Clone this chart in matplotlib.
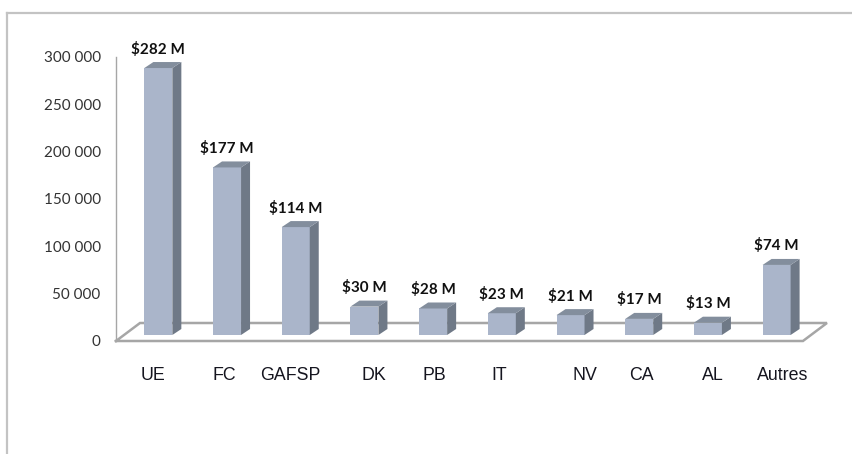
import matplotlib
matplotlib.use("Agg")
import matplotlib.pyplot as plt
from matplotlib.patches import Polygon
from matplotlib.lines import Line2D

# data
donors = ["UE", "FC", "GAFSP", "DK", "PB", "IT", "NV", "CA", "AL", "Autres"]
amounts = [282000, 177000, 114000, 30000, 28000, 23000, 21000, 17000, 13000, 74000]
amount_labels = ["$282 M", "$177 M", "$114 M", "$30 M", "$28 M", "$23 M",
                 "$21 M", "$17 M", "$13 M", "$74 M"]
yticks = [0, 50000, 100000, 150000, 200000, 250000, 300000]
ytick_labels = ["0", "50 000", "100 000", "150 000", "200 000", "250 000", "300 000"]

# category labels are not centred under the bars in the original (pixels)
label_nudge_px = [-5, -3, -5, 9, 1, -3, 14, 2, 5, 6]

W, H = 852, 454
fig = plt.figure(figsize=(W / 100, H / 100), dpi=100)
fig.patch.set_facecolor("white")

# axes placed so 0 sits on the floor front and 300 000 at the top of the axis line
left_px, right_px = 116, 827
bottom_px, top_px = 341, 57
ax = fig.add_axes([left_px / W, (H - bottom_px) / H,
                   (right_px - left_px) / W, (bottom_px - top_px) / H])
xmin, xmax = -0.5, 9.85
ymin, ymax = 0, 300000
ax.set_xlim(xmin, xmax)
ax.set_ylim(ymin, ymax)

# pixel -> data helpers for the fake 3D depth
px_x = (xmax - xmin) / (right_px - left_px)
px_y = (ymax - ymin) / (bottom_px - top_px)

floor_dx, floor_dy = 24 * px_x, 18 * px_y
front_dx, front_dy = 8 * px_x, 6 * px_y
bar_dx, bar_dy = 9 * px_x, 6 * px_y
bar_w = 28 * px_x

front_col = "#aab5ca"
side_col = "#6f7987"
top_col = "#838e9d"
line_col = "#a6a6a6"

# floor outline
fl = [(-0.5, 0), (9.5, 0), (9.5 + floor_dx, floor_dy), (-0.5 + floor_dx, floor_dy), (-0.5, 0)]
ax.plot([p[0] for p in fl], [p[1] for p in fl], color=line_col, lw=1.8,
        solid_joinstyle="miter", zorder=1, clip_on=False)
# vertical axis line
ax.plot([-0.5, -0.5], [0, 300000], color=line_col, lw=1.0, zorder=1, clip_on=False)

# bars
for i in range(len(donors)):
    v = amounts[i]
    x0 = i - bar_w / 2 + front_dx
    y0 = front_dy
    front = Polygon([(x0, y0), (x0 + bar_w, y0), (x0 + bar_w, y0 + v), (x0, y0 + v)],
                    closed=True, facecolor=front_col, edgecolor="none", zorder=3)
    side = Polygon([(x0 + bar_w, y0), (x0 + bar_w + bar_dx, y0 + bar_dy),
                    (x0 + bar_w + bar_dx, y0 + bar_dy + v), (x0 + bar_w, y0 + v)],
                   closed=True, facecolor=side_col, edgecolor="none", zorder=3)
    top = Polygon([(x0, y0 + v), (x0 + bar_dx, y0 + v + bar_dy),
                   (x0 + bar_w + bar_dx, y0 + v + bar_dy), (x0 + bar_w, y0 + v)],
                  closed=True, facecolor=top_col, edgecolor="none", zorder=3)
    for p in (front, side, top):
        p.set_clip_on(False)
        ax.add_patch(p)
    # value label above the bar
    ax.text(i + front_dx, y0 + v + 19 * px_y, amount_labels[i], ha="center", va="center",
            fontsize=11, fontweight="bold", family="Lato", color="#111111", clip_on=False)
    # category label
    ax.text(i + front_dx + label_nudge_px[i] * px_x, -35 * px_y, donors[i],
            ha="center", va="center", fontsize=12.8, family="Liberation Sans",
            color="#15151f", clip_on=False)

# y ticks
ax.set_yticks(yticks)
ax.set_yticklabels(ytick_labels, family="Lato", fontsize=11, color="#333333")
ax.tick_params(axis="y", length=0, pad=11)
ax.set_xticks([])
for s in ax.spines.values():
    s.set_visible(False)
ax.patch.set_alpha(0)

# outer frame (left and top edges only are visible)
fy = (H - 13) / H
fx = 7 / W
fig.add_artist(Line2D([fx, fx], [0, fy], color="#c3c3c3", lw=1.6))
fig.add_artist(Line2D([fx, 1], [fy, fy], color="#c3c3c3", lw=1.6))

fig.savefig("out.png", dpi=100)
